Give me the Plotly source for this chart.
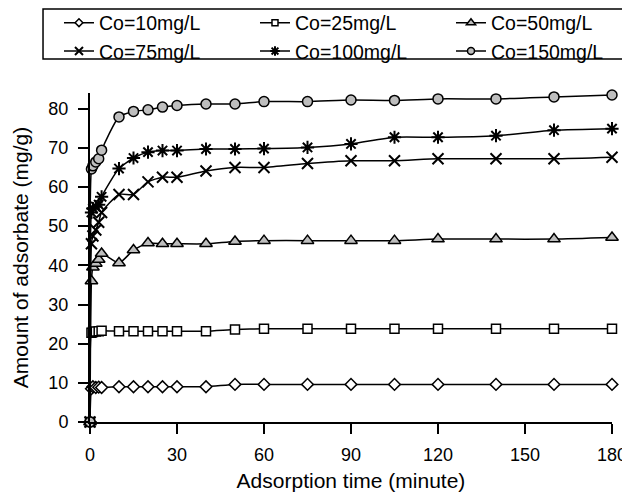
import plotly.graph_objects as go

time_min = [0, 0.5, 1, 2, 3, 4, 10, 15, 20, 25, 30, 40, 50, 60, 75, 90, 105, 120, 140, 160, 180]

series_names = ["Co=10mg/L", "Co=25mg/L", "Co=50mg/L", "Co=75mg/L", "Co=100mg/L", "Co=150mg/L"]

q_10 = [0, 8.5, 9.0, 8.8, 8.9, 8.8, 9.0, 9.0, 9.0, 9.0, 9.0, 9.0, 9.6, 9.6, 9.6, 9.6, 9.6, 9.6, 9.6, 9.6, 9.6]
q_25 = [0, 22.8, 23.0, 23.1, 23.2, 23.3, 23.2, 23.2, 23.2, 23.2, 23.2, 23.2, 23.6, 23.8, 23.8, 23.8, 23.8, 23.8, 23.8, 23.8, 23.8]
q_50 = [0, 36.0, 39.5, 40.5, 41.5, 43.0, 40.6, 43.9, 45.7, 45.5, 45.5, 45.5, 46.1, 46.3, 46.3, 46.3, 46.3, 46.7, 46.7, 46.7, 47.1]
q_75 = [0, 45.5, 47.5, 49.0, 51.0, 53.5, 58.1, 58.1, 61.3, 62.5, 62.5, 64.1, 65.0, 65.0, 66.0, 66.7, 66.7, 67.2, 67.2, 67.2, 67.6]
q_100 = [0, 53.5, 54.5, 55.0, 55.5, 57.5, 64.7, 67.4, 68.9, 69.3, 69.3, 69.7, 69.7, 69.8, 70.1, 71.0, 72.7, 72.7, 73.1, 74.5, 74.9]
q_150 = [0, 64.6, 65.4, 66.4, 67.2, 69.4, 77.9, 79.3, 79.7, 80.4, 80.8, 81.2, 81.2, 81.8, 81.8, 82.2, 82.1, 82.5, 82.5, 83.0, 83.5]

x_ticks = [0, 30, 60, 90, 120, 150, 180]
y_ticks = [0, 10, 20, 30, 40, 50, 60, 70, 80]

GRAY = "#BEBEBE"
styles = [
    dict(symbol="diamond", size=9, color="white", line=dict(color="black", width=1.5)),
    dict(symbol="square", size=9, color="white", line=dict(color="black", width=1.5)),
    dict(symbol="triangle-up", size=11, color=GRAY, line=dict(color="black", width=1.5)),
    dict(symbol="x-thin-open", size=11, color="black", line=dict(color="black", width=2)),
    dict(symbol="asterisk-open", size=11, color="black", line=dict(color="black", width=2)),
    dict(symbol="circle", size=10, color=GRAY, line=dict(color="black", width=1.5)),
]

fig = go.Figure()
for name, ys, mk in zip(series_names, [q_10, q_25, q_50, q_75, q_100, q_150], styles):
    fig.add_trace(go.Scatter(
        x=time_min, y=ys, name=name, mode="lines+markers", showlegend=False,
        line=dict(color="black", width=1.5, shape="spline", smoothing=0.6),
        marker=mk, cliponaxis=False,
    ))

# legend-only entries with smaller symbols, as in the reference legend
for name, mk in zip(series_names, styles):
    small = dict(mk)
    small["size"] = max(6, mk["size"] - 3)
    fig.add_trace(go.Scatter(
        x=[None], y=[None], name=name, mode="lines+markers", showlegend=True,
        line=dict(color="black", width=1.5), marker=small,
    ))

# page body has an 8px margin: figure is sized/offset to compensate
FONT = "Liberation Sans, Arial, sans-serif"
fig.update_layout(
    width=622, height=486,
    margin=dict(l=82, r=18, t=85, b=72, autoexpand=False),
    paper_bgcolor="white", plot_bgcolor="white",
    font=dict(family=FONT, color="black", size=18),
    showlegend=True,
    legend=dict(
        orientation="h", x=-0.0594, y=1.2720, xanchor="left", yanchor="top",
        borderwidth=0, bgcolor="rgba(0,0,0,0)",
        entrywidth=151, entrywidthmode="pixels",
        font=dict(family=FONT, size=19.5, color="black"),
        tracegroupgap=0, itemsizing="trace",
    ),
    shapes=[dict(
        type="rect", xref="paper", yref="paper",
        x0=-0.0900, x1=1.0249, y0=1.1034, y1=1.2553,
        line=dict(color="black", width=1.5), fillcolor="rgba(0,0,0,0)", layer="below",
    )],
    xaxis=dict(
        range=[0, 180], tickvals=x_ticks, ticktext=[str(v) for v in x_ticks],
        showline=True, linecolor="black", linewidth=2,
        ticks="outside", ticklen=10, tickwidth=2, tickcolor="black",
        showgrid=False, zeroline=False, ticklabelstandoff=5,
        tickfont=dict(size=18),
        title=dict(text="Adsorption time (minute)", font=dict(size=21), standoff=10),
    ),
    yaxis=dict(
        range=[0, 84], tickvals=y_ticks, ticktext=[str(v) for v in y_ticks],
        showline=True, linecolor="black", linewidth=2,
        ticks="outside", ticklen=10, tickwidth=2, tickcolor="black",
        showgrid=False, zeroline=False, ticklabelstandoff=6,
        tickfont=dict(size=18),
        title=dict(text="Amount of adsorbate (mg/g)", font=dict(size=21), standoff=14),
    ),
)

fig.write_html("out.html")
